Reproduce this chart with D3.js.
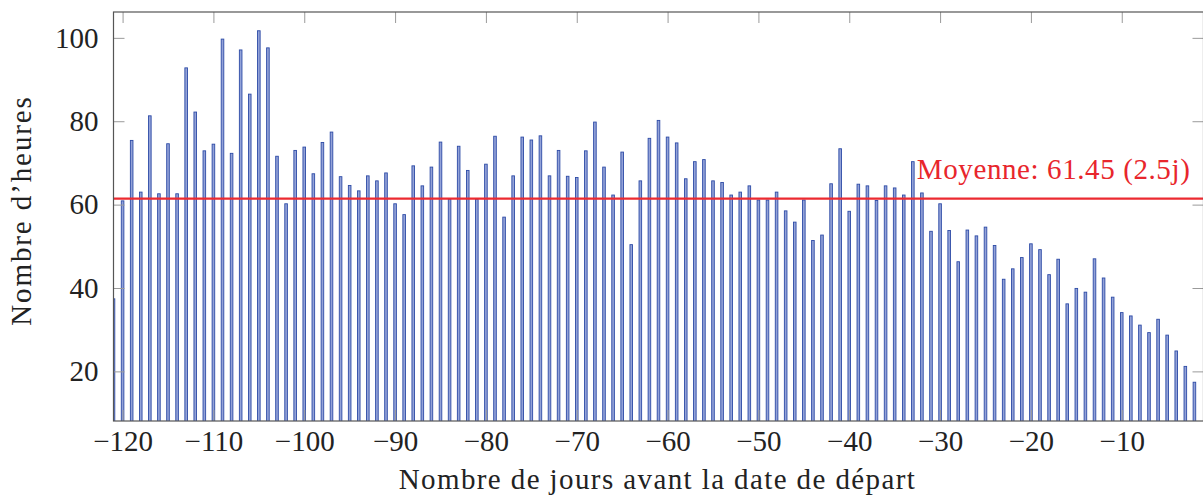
<!DOCTYPE html>
<html>
<head>
<meta charset="utf-8">
<script src="https://cdn.jsdelivr.net/npm/d3@7"></script>
<style>
  html, body { margin: 0; padding: 0; background: #fff; }
  svg { display: block; }
  text { font-family: "Liberation Serif", "Times New Roman", serif; fill: #222; }
</style>
</head>
<body>
<svg id="chart" width="1203" height="497"></svg>
<script>
// Days before departure (x) and hours per day (y)
const days = d3.range(-121, -1);
const hours = [
  37.4, 60.9, 75.4, 63.0, 81.3, 62.6, 74.6, 62.6, 92.8, 82.2,
  72.9, 74.5, 99.7, 72.3, 97.1, 86.5, 101.7, 97.6, 71.6, 60.2,
  73.0, 73.8, 67.4, 74.9, 77.4, 66.7, 64.6, 63.3, 66.9, 65.7,
  67.6, 60.2, 57.6, 69.3, 64.5, 69.0, 75.0, 61.3, 74.0, 68.2,
  61.3, 69.7, 76.4, 57.0, 66.9, 76.2, 75.5, 76.5, 66.9, 73.0,
  66.8, 66.5, 72.9, 79.8, 69.0, 62.3, 72.6, 50.4, 65.7, 75.9,
  80.2, 76.2, 74.8, 66.2, 70.3, 70.8, 65.7, 65.3, 62.3, 63.0,
  64.5, 61.1, 61.1, 63.0, 58.5, 55.8, 61.1, 51.4, 52.7, 65.0,
  73.4, 58.4, 64.9, 64.5, 61.0, 64.5, 64.0, 62.3, 70.3, 62.8,
  53.6, 60.2, 53.8, 46.3, 53.9, 52.5, 54.6, 50.2, 42.1, 44.6,
  47.3, 50.6, 49.2, 43.2, 46.9, 36.2, 39.9, 39.0, 47.0, 42.4,
  37.8, 34.1, 33.3, 31.1, 29.3, 32.5, 28.7, 24.9, 21.2, 17.4
];
const meanHours = 61.45;
const meanLabel = "Moyenne: 61.45 (2.5j)";
const xTicks = [-120, -110, -100, -90, -80, -70, -60, -50, -40, -30, -20, -10];
const yTicks = [20, 40, 60, 80, 100];
const xTitle = "Nombre de jours avant la date de départ";
const yTitle = "Nombre d’heures";

const data = days.map((d, i) => ({ day: d, value: hours[i] }));

const plot = { left: 113.5, right: 1203.5, top: 12, bottom: 421 };
const x = d3.scaleLinear().domain([-121, -1]).range([plot.left, plot.right]);
const y = d3.scaleLinear().domain([8.1, 106.2]).range([plot.bottom, plot.top]);

const svg = d3.select("#chart");
const fontSize = 29;

svg.append("defs").append("clipPath").attr("id", "plotClip")
  .append("rect")
  .attr("x", plot.left).attr("y", plot.top)
  .attr("width", plot.right - plot.left).attr("height", plot.bottom - plot.top);

// Bars
const barW = 2.6;
svg.append("g").attr("clip-path", "url(#plotClip)")
  .selectAll("rect").data(data).join("rect")
  .attr("x", d => x(d.day) - barW / 2)
  .attr("y", d => y(d.value))
  .attr("width", barW)
  .attr("height", d => y.range()[0] - y(d.value) + 2)
  .attr("fill", "#93a2d8")
  .attr("stroke", "#2d4ba6")
  .attr("stroke-width", 0.9);

// Axes: ticks point inward on all four sides
const tickLen = 11;
function styleAxis(g) {
  g.select(".domain").remove();
  g.selectAll(".tick line").attr("stroke", "#9a9a9a").attr("stroke-width", 1);
  g.selectAll(".tick text")
    .attr("font-size", fontSize)
    .attr("font-family", "Liberation Serif, serif")
    .attr("fill", "#222");
}

svg.append("g").attr("transform", `translate(0,${plot.bottom})`)
  .call(d3.axisBottom(x).tickValues(xTicks).tickSize(-tickLen).tickPadding(9))
  .call(styleAxis);

svg.append("g").attr("transform", `translate(0,${plot.top})`)
  .call(d3.axisTop(x).tickValues(xTicks).tickSize(-tickLen).tickFormat(""))
  .call(styleAxis);

svg.append("g").attr("transform", `translate(${plot.left},0)`)
  .call(d3.axisLeft(y).tickValues(yTicks).tickSize(-tickLen).tickPadding(15))
  .call(styleAxis);

svg.append("g").attr("transform", `translate(${plot.right},0)`)
  .call(d3.axisRight(y).tickValues(yTicks).tickSize(-tickLen).tickFormat(""))
  .call(styleAxis);

// Mean line and its label
svg.append("line")
  .attr("x1", plot.left).attr("x2", plot.right)
  .attr("y1", y(meanHours)).attr("y2", y(meanHours))
  .attr("stroke", "#ec2a30").attr("stroke-width", 2.3);

svg.append("text")
  .attr("x", x(-33) + 4)
  .attr("y", y(meanHours) - 20)
  .attr("font-size", fontSize)
  .attr("letter-spacing", 0.6)
  .style("fill", "#e8262c")
  .text(meanLabel);

// Plot frame
svg.append("rect")
  .attr("x", plot.left).attr("y", plot.top)
  .attr("width", plot.right - plot.left).attr("height", plot.bottom - plot.top)
  .attr("fill", "none").attr("stroke", "#555").attr("stroke-width", 1.2);

// Axis titles
svg.append("text")
  .attr("x", (plot.left + plot.right) / 2 - 1)
  .attr("y", 489)
  .attr("text-anchor", "middle")
  .attr("font-size", fontSize)
  .attr("letter-spacing", 1.4)
  .text(xTitle);

svg.append("text")
  .attr("transform", `translate(31,${(plot.top + plot.bottom) / 2 - 6}) rotate(-90)`)
  .attr("text-anchor", "middle")
  .attr("font-size", fontSize)
  .attr("letter-spacing", 1.9)
  .text(yTitle);
</script>
</body>
</html>
